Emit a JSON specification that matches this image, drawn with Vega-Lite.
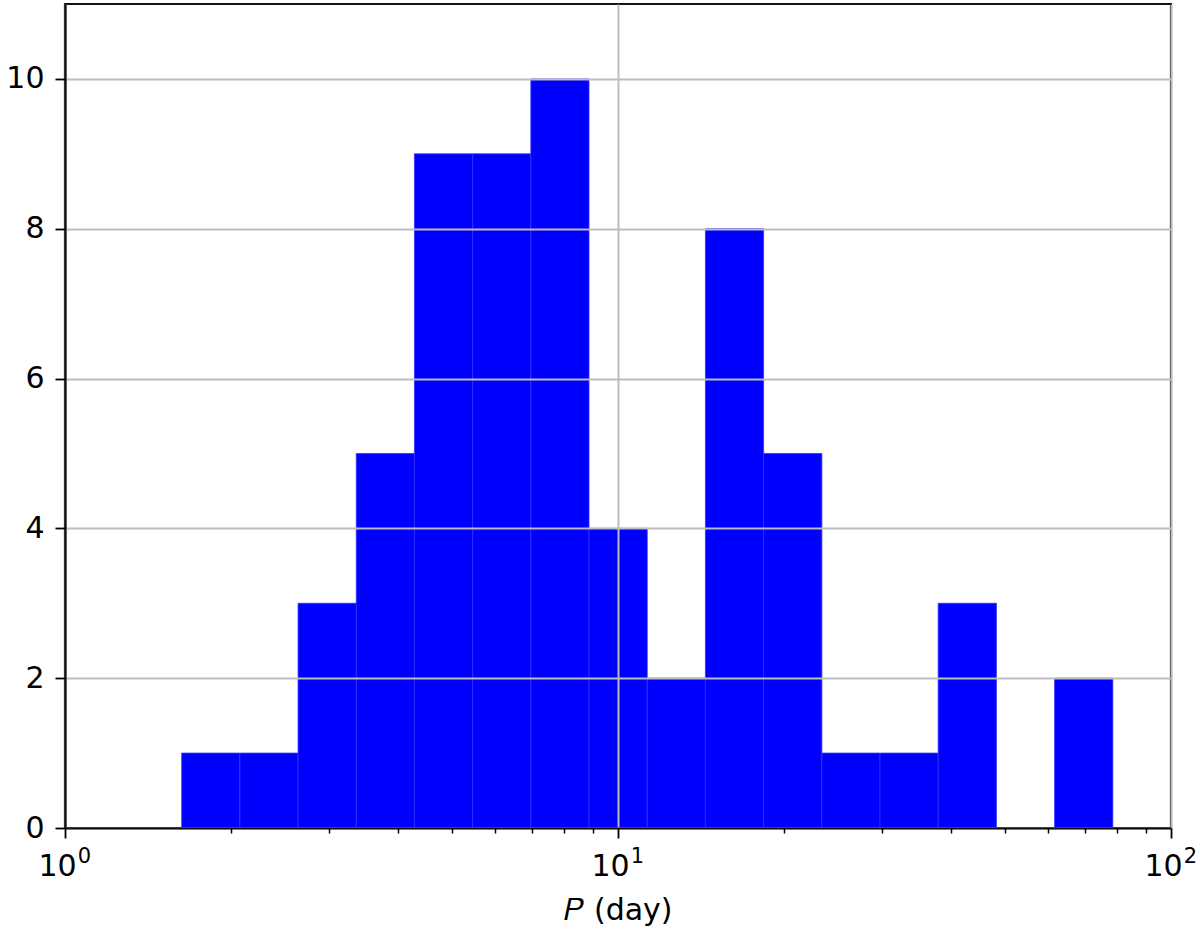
{
  "$schema": "https://vega.github.io/schema/vega-lite/v6.json",
  "autosize": "none",
  "width": 1106,
  "height": 824,
  "padding": {"left": 65, "top": 4, "right": 29, "bottom": 106},
  "background": "white",
  "config": {
    "view": {"stroke": "#111111", "strokeWidth": 2.2},
    "axis": {"labelFont": "DejaVu Sans", "titleFont": "DejaVu Sans", "labelColor": "black", "titleColor": "black", "domainColor": "#111111", "tickColor": "black", "gridColor": "#bdbdbd", "gridWidth": 2, "gridOpacity": 1, "domainWidth": 2.2, "tickWidth": 1.8}
  },
  "data": {
    "values": [
      {"x0": 1.6256, "x1": 2.0711, "count": 1},
      {"x0": 2.0711, "x1": 2.6392, "count": 1},
      {"x0": 2.6392, "x1": 3.3628, "count": 3},
      {"x0": 3.3628, "x1": 4.2844, "count": 5},
      {"x0": 4.2844, "x1": 5.4600, "count": 9},
      {"x0": 5.4600, "x1": 6.9563, "count": 9},
      {"x0": 6.9563, "x1": 8.8631, "count": 10},
      {"x0": 8.8631, "x1": 11.295, "count": 4},
      {"x0": 11.295, "x1": 14.390, "count": 2},
      {"x0": 14.390, "x1": 18.336, "count": 8},
      {"x0": 18.336, "x1": 23.37, "count": 5},
      {"x0": 23.37, "x1": 29.77, "count": 1},
      {"x0": 29.77, "x1": 37.93, "count": 1},
      {"x0": 37.93, "x1": 48.34, "count": 3},
      {"x0": 48.34, "x1": 61.59, "count": 0},
      {"x0": 61.59, "x1": 78.49, "count": 2}
    ]
  },
  "layer": [
    {
      "mark": {"type": "rect", "color": "#0000ff", "stroke": "#3030ff", "strokeWidth": 0.8, "opacity": 1},
      "encoding": {
        "x": {
          "field": "x0", "type": "quantitative",
          "scale": {"type": "log", "domain": [1, 100], "nice": false},
          "axis": {
            "values": [1, 10, 100],
            "labelExpr": "'10'",
            "labelFontSize": 30, "labelFlush": false, "labelOverlap": false, "labelBound": false,
            "labelBaseline": "alphabetic", "labelOffset": -8,
            "tickSize": 10, "labelPadding": 37,
            "grid": true, "zindex": 1,
            "title": "𝑃 (day)", "titleFontSize": 30, "titleFontWeight": "normal",
            "titleBaseline": "alphabetic", "titleY": 91, "titleX": 553
          }
        },
        "x2": {"field": "x1"},
        "y": {
          "field": "count", "type": "quantitative",
          "scale": {"domain": [0, 11], "nice": false, "zero": true},
          "axis": {
            "values": [0, 2, 4, 6, 8, 10],
            "labelFontSize": 30, "tickSize": 10, "labelPadding": 11,
            "grid": true, "zindex": 1, "title": null
          }
        },
        "y2": {"datum": 0}
      }
    },
    {
      "mark": {"type": "rule", "opacity": 0},
      "encoding": {
        "x": {
          "field": "x0", "type": "quantitative",
          "axis": {
            "orient": "bottom",
            "values": [2, 3, 4, 5, 6, 7, 8, 9, 20, 30, 40, 50, 60, 70, 80, 90],
            "labels": false, "domain": false, "grid": false,
            "tickSize": 5, "tickWidth": 1.5, "title": null, "zindex": 1
          }
        }
      }
    },
    {
      "mark": {"type": "rule", "opacity": 0},
      "encoding": {
        "x": {
          "field": "x1", "type": "quantitative",
          "axis": {
            "orient": "bottom",
            "values": [1, 10, 100],
            "labelExpr": "datum.value == 1 ? '0' : datum.value == 10 ? '1' : '2'",
            "labelFontSize": 21, "labelFlush": false, "labelOverlap": false, "labelBound": false,
            "labelBaseline": "alphabetic", "labelOffset": 19,
            "domain": false, "grid": false, "ticks": true, "tickOpacity": 0,
            "tickSize": 10, "labelPadding": 24, "title": null, "zindex": 1
          }
        }
      }
    }
  ],
  "resolve": {"axis": {"x": "independent"}}
}
